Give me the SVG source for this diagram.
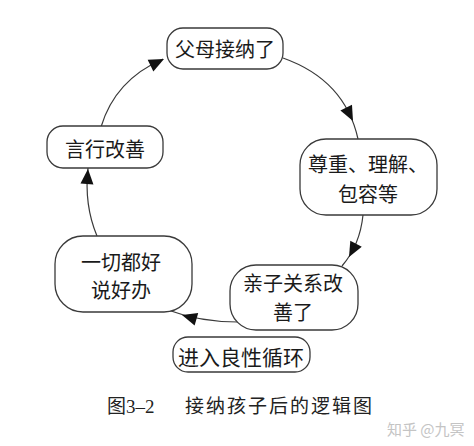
<svg xmlns="http://www.w3.org/2000/svg" width="474" height="446" viewBox="0 0 474 446">
<defs>
<style>
.box{fill:#fff;stroke:#3a3a3a;stroke-width:1.3}
.lbl{font-family:"Noto Sans CJK SC","Noto Sans",sans-serif;font-size:20px;fill:#1a1a1a;text-anchor:middle}
.con{fill:none;stroke:#3a3a3a;stroke-width:1.2}
.cap{font-family:"Liberation Serif","Noto Sans CJK SC",serif;font-size:19px;fill:#222}
.wm{font-family:"Noto Sans CJK SC",sans-serif;font-size:15px;fill:#c4c4c4}
.ah{fill:#111}
</style>
<path id="head" d="M0,0 L-15,-6.5 L-15,6.5 z"/>
</defs>
<rect width="474" height="446" fill="#fff"/>
<g id="connectors">
<path class="con" d="M101,127 Q115,80 163,59"/>
<use href="#head" class="ah" transform="translate(164,59) rotate(-26)"/>
<path class="con" d="M283,58 Q345,80 358,139"/>
<use href="#head" class="ah" transform="translate(353,121) rotate(63)"/>
<path class="con" d="M363,215 Q360,245 342,266"/>
<use href="#head" class="ah" transform="translate(349,257) rotate(118)"/>
<path class="con" d="M238,322 Q200,322 168,310"/>
<use href="#head" class="ah" transform="translate(182,315) rotate(196)"/>
<path class="con" d="M97,236 Q84,205 88,168"/>
<use href="#head" class="ah" transform="translate(88,169) rotate(-86)"/>
</g>
<g id="n1">
<rect class="box" x="167" y="28" width="116" height="41" rx="16"/>
<text class="lbl" x="225" y="57">父母接纳了</text>
</g>
<g id="n2">
<rect class="box" x="300" y="139" width="137" height="76" rx="26"/>
<text class="lbl" x="368" y="172">尊重、理解、</text>
<text class="lbl" x="368" y="202">包容等</text>
</g>
<g id="n3">
<rect class="box" x="230" y="265" width="128" height="65" rx="26"/>
<text class="lbl" x="293" y="291">亲子关系改</text>
<text class="lbl" x="293" y="320">善了</text>
</g>
<g id="n4">
<rect class="box" x="55" y="236" width="137" height="76" rx="28"/>
<text class="lbl" x="121" y="270">一切都好</text>
<text class="lbl" x="121" y="298">说好办</text>
</g>
<g id="n5">
<rect class="box" x="47" y="126" width="116" height="42" rx="16"/>
<text class="lbl" x="105" y="157">言行改善</text>
</g>
<g id="n6">
<rect class="box" x="173" y="337" width="137" height="35" rx="15"/>
<text class="lbl" x="241" y="365" style="font-size:21px">进入良性循环</text>
</g>
<text class="cap" x="107" y="413">图3–2</text>
<text class="cap" x="185" y="413" letter-spacing="2">接纳孩子后的逻辑图</text>
<text class="wm" x="387" y="435">知乎 @九冥</text>
</svg>
